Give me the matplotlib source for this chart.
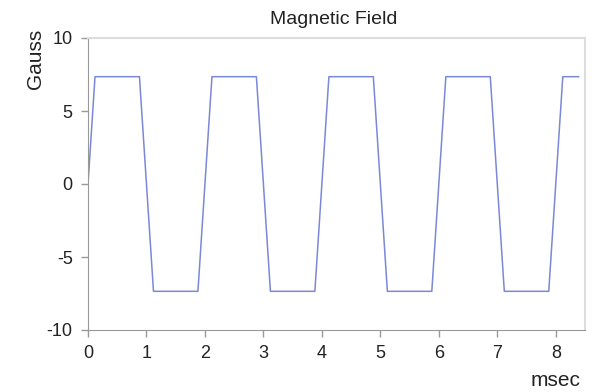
import matplotlib.pyplot as plt

plt.rcParams['font.family'] = ['Liberation Sans', 'DejaVu Sans']
plt.rcParams['axes.unicode_minus'] = False

# vertices of the trapezoidal field waveform
t_ms = [0.0, 0.12, 0.88, 1.12, 1.88, 2.12, 2.88, 3.12, 3.88, 4.12, 4.88, 5.12,
        5.88, 6.12, 6.88, 7.12, 7.88, 8.12, 8.39]
field = [0.0, 7.35, 7.35, -7.35, -7.35, 7.35, 7.35, -7.35, -7.35, 7.35, 7.35, -7.35,
         -7.35, 7.35, 7.35, -7.35, -7.35, 7.35, 7.35]

x_ticks = [0, 1, 2, 3, 4, 5, 6, 7, 8]
y_ticks = [-10, -5, 0, 5, 10]

fig = plt.figure(figsize=(6.13, 3.92), dpi=100)
ax = fig.add_axes([88 / 613, 1 - 330 / 392, (585 - 88) / 613, (330 - 38) / 392])

ax.plot(t_ms, field, color='#7b88d6', linewidth=1.1)

ax.set_xlim(0, 8.5)
ax.set_ylim(-10, 10)
ax.set_xticks(x_ticks)
ax.set_yticks(y_ticks)
ax.tick_params(labelsize=13, labelcolor='#222222', color='#999999', length=5, width=1, pad=6)

for side in ['left', 'bottom']:
    ax.spines[side].set_color('#999999')
for side in ['top', 'right']:
    ax.spines[side].set_color('#dddddd')
    ax.spines[side].set_linewidth(1.5)

fig.text(334 / 613, 1 - 19 / 392, 'Magnetic Field', ha='center', va='center',
         fontsize=14, color='#222222')
fig.text(36 / 613, 1 - 59 / 392, 'Gauss', rotation=90, ha='center', va='center',
         fontsize=15, color='#222222')
fig.text(556 / 613, 1 - 381 / 392, 'msec', ha='center', va='center',
         fontsize=15, color='#222222')

fig.savefig('out.png', dpi=100)
